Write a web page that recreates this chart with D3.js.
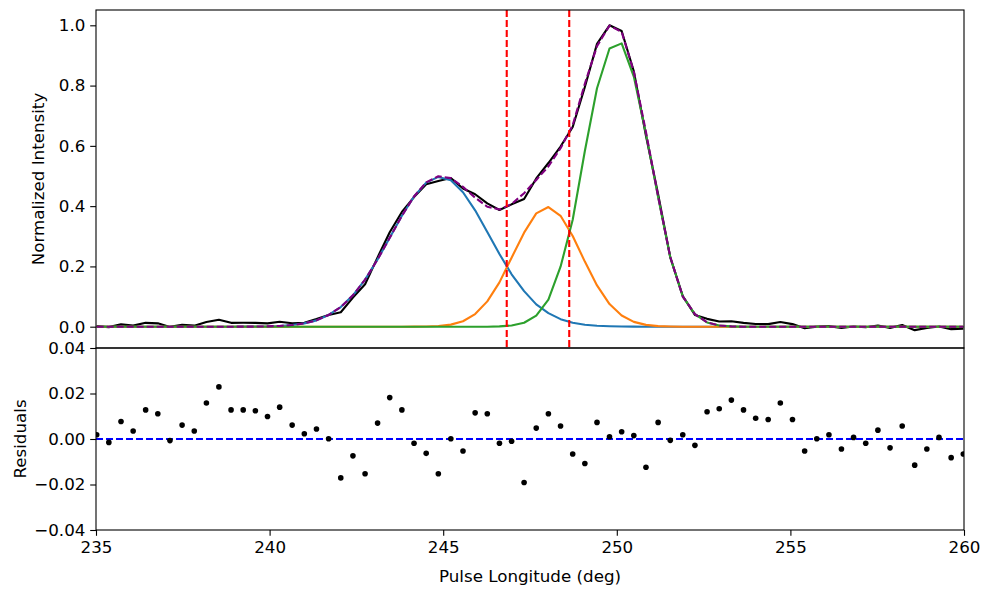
<!DOCTYPE html>
<meta charset="utf-8">
<style>
body { margin: 0; background: #fff; }
text { font-family: "DejaVu Sans", sans-serif; }
</style>
<body>
<script src="https://d3js.org/d3.v7.min.js"></script>
<div id="content"></div>
<script>
// pulse longitude of each phase bin (deg)
var longitude = [235.02, 235.37, 235.72, 236.07, 236.43, 236.78, 237.13, 237.48, 237.83, 238.18,
  238.54, 238.89, 239.24, 239.59, 239.94, 240.29, 240.65, 241.00, 241.35, 241.70,
  242.05, 242.40, 242.75, 243.11, 243.46, 243.81, 244.16, 244.51, 244.86, 245.22,
  245.57, 245.92, 246.27, 246.62, 246.97, 247.33, 247.68, 248.03, 248.38, 248.73,
  249.08, 249.43, 249.79, 250.14, 250.49, 250.84, 251.19, 251.54, 251.90, 252.25,
  252.60, 252.95, 253.30, 253.65, 254.00, 254.36, 254.71, 255.06, 255.41, 255.76,
  256.11, 256.47, 256.82, 257.17, 257.52, 257.87, 258.22, 258.58, 258.93, 259.28,
  259.63, 259.98];

// observed profile
var intensity = [0.0019, -0.0015, 0.0077, 0.0035, 0.0128, 0.0111, -0.0007, 0.0061, 0.0035, 0.0158,
  0.0229, 0.0128, 0.0130, 0.0128, 0.0109, 0.0165, 0.0115, 0.0133, 0.0254, 0.0391,
  0.0479, 0.0966, 0.1407, 0.230, 0.3132, 0.3808, 0.4301, 0.4727, 0.4837, 0.4931,
  0.4587, 0.4395, 0.4091, 0.3871, 0.406, 0.4239, 0.4918, 0.5431, 0.5977, 0.6624,
  0.7952, 0.9383, 1.000, 0.9812, 0.8475, 0.6336, 0.4393, 0.2304, 0.1019, 0.0392,
  0.026, 0.0173, 0.0181, 0.0128, 0.0091, 0.0086, 0.0158, 0.0086, -0.0053, 0.0001,
  0.0019, -0.0044, 0.0007, -0.0019, 0.0039, -0.0039, 0.0057, -0.0115, -0.0044, 0.0007,
  -0.0082, -0.0066];

// gaussian components
var comp1 = [0, 0, 0, 0, 0, 0, 0, 0, 0, 0,
  0, 0, 0.0002, 0.0004, 0.001, 0.0025, 0.0054, 0.011, 0.021, 0.039,
  0.065, 0.104, 0.156, 0.223, 0.295, 0.368, 0.432, 0.478, 0.497, 0.486,
  0.446, 0.386, 0.314, 0.241, 0.174, 0.118, 0.074, 0.045, 0.025, 0.013,
  0.0067, 0.0031, 0.0014, 0.0006, 0.0002, 0, 0, 0, 0, 0,
  0, 0, 0, 0, 0, 0, 0, 0, 0, 0,
  0, 0, 0, 0, 0, 0, 0, 0, 0, 0,
  0, 0];
var comp2 = [0, 0, 0, 0, 0, 0, 0, 0, 0, 0,
  0, 0, 0, 0, 0, 0, 0, 0, 0, 0,
  0, 0, 0, 0, 0, 0, 0.0002, 0.0007, 0.0023, 0.0069,
  0.018, 0.042, 0.084, 0.147, 0.229, 0.312, 0.376, 0.397, 0.368, 0.301,
  0.216, 0.137, 0.075, 0.037, 0.016, 0.006, 0.002, 0.0006, 0, 0,
  0, 0, 0, 0, 0, 0, 0, 0, 0, 0,
  0, 0, 0, 0, 0, 0, 0, 0, 0, 0,
  0, 0];
var comp3 = [0, 0, 0, 0, 0, 0, 0, 0, 0, 0,
  0, 0, 0, 0, 0, 0, 0, 0, 0, 0,
  0, 0, 0, 0, 0, 0, 0, 0, 0, 0,
  0, 0, 0, 0.001, 0.004, 0.013, 0.037, 0.090, 0.199, 0.355,
  0.583, 0.791, 0.923, 0.940, 0.830, 0.640, 0.430, 0.230, 0.100, 0.042,
  0.014, 0.004, 0.001, 0, 0, 0, 0, 0, 0, 0,
  0, 0, 0, 0, 0, 0, 0, 0, 0, 0,
  0, 0];

// total model
var fitTotal = [0, 0, 0, 0, 0, 0, 0, 0, 0, 0,
  0, 0, 0.0002, 0.0004, 0.001, 0.0025, 0.0054, 0.011, 0.021, 0.039,
  0.065, 0.104, 0.156, 0.223, 0.295, 0.368, 0.432, 0.479, 0.499, 0.493,
  0.464, 0.428, 0.398, 0.389, 0.407, 0.443, 0.487, 0.532, 0.592, 0.669,
  0.806, 0.931, 0.999, 0.978, 0.846, 0.646, 0.432, 0.231, 0.100, 0.042,
  0.014, 0.004, 0.001, 0, 0, 0, 0, 0, 0, 0,
  0, 0, 0, 0, 0, 0, 0, 0, 0, 0,
  0, 0];

var residuals = [0.0019, -0.0015, 0.0077, 0.0035, 0.0128, 0.0111, -0.0007, 0.0061, 0.0035, 0.0158,
  0.0229, 0.0128, 0.0128, 0.0124, 0.0099, 0.0140, 0.0061, 0.0023, 0.0044, 0.0001,
  -0.0171, -0.0074, -0.0153, 0.0070, 0.0182, 0.0128, -0.0019, -0.0063, -0.0153, 0.0001,
  -0.0053, 0.0115, 0.0111, -0.0019, -0.0010, -0.0191, 0.0048, 0.0111, 0.0057, -0.0066,
  -0.0108, 0.0073, 0.0010, 0.0032, 0.0015, -0.0124, 0.0073, -0.0006, 0.0019, -0.0028,
  0.0120, 0.0133, 0.0171, 0.0128, 0.0091, 0.0086, 0.0158, 0.0086, -0.0053, 0.0001,
  0.0019, -0.0044, 0.0007, -0.0019, 0.0039, -0.0039, 0.0057, -0.0115, -0.0044, 0.0007,
  -0.0082, -0.0066];

var boundaries = [246.83, 248.63];
var xTicks = [235, 240, 245, 250, 255, 260];
var yTicksTop = [0, 0.2, 0.4, 0.6, 0.8, 1.0];
var yTicksRes = [-0.04, -0.02, 0, 0.02, 0.04];

var width = 994,
    height = 590,
    plotLeft = 96,
    plotRight = 964,
    plotTop = 10,
    plotMid = 348,
    plotBottom = 530,
    fontSize = "16.7px";

var svg = d3.select("#content").append("svg")
    .attr("width", width)
    .attr("height", height);

var x = d3.scaleLinear().domain([235, 260]).range([plotLeft, plotRight]);
var yTop = d3.scaleLinear().domain([-0.0707, 1.0508]).range([plotMid, plotTop]);
var yRes = d3.scaleLinear().domain([-0.04, 0.04]).range([plotBottom, plotMid]);

var defs = svg.append("defs");
defs.append("clipPath").attr("id", "clipTop")
  .append("rect").attr("x", plotLeft).attr("y", plotTop)
  .attr("width", plotRight - plotLeft).attr("height", plotMid - plotTop);
defs.append("clipPath").attr("id", "clipRes")
  .append("rect").attr("x", plotLeft).attr("y", plotMid)
  .attr("width", plotRight - plotLeft).attr("height", plotBottom - plotMid);

var idx = d3.range(longitude.length);
var lineOf = function(arr) {
  return d3.line().x(function(i){ return x(longitude[i]); }).y(function(i){ return yTop(arr[i]); });
};

// top panel
var gTop = svg.append("g").attr("clip-path", "url(#clipTop)");

var series = [
  {vals: intensity, color: "#000000", dash: null},
  {vals: comp1, color: "#1f77b4", dash: null},
  {vals: comp2, color: "#ff7f0e", dash: null},
  {vals: comp3, color: "#2ca02c", dash: null},
  {vals: fitTotal, color: "#800080", dash: "7,3"}
];

series.forEach(function(s) {
  gTop.append("path")
    .datum(idx)
    .attr("d", lineOf(s.vals))
    .style("fill", "none")
    .style("stroke", s.color)
    .style("stroke-width", 2.1)
    .style("stroke-linejoin", "round")
    .style("stroke-dasharray", s.dash);
});

gTop.selectAll(".bound")
  .data(boundaries)
  .enter()
  .append("line")
  .attr("class", "bound")
  .attr("x1", function(d){ return x(d); })
  .attr("x2", function(d){ return x(d); })
  .attr("y1", plotTop)
  .attr("y2", plotMid)
  .style("stroke", "#ff0000")
  .style("stroke-width", 2.1)
  .style("stroke-dasharray", "7,3");

// residual panel
var gRes = svg.append("g").attr("clip-path", "url(#clipRes)");

gRes.append("line")
  .attr("x1", plotLeft).attr("x2", plotRight)
  .attr("y1", yRes(0)).attr("y2", yRes(0))
  .style("stroke", "#0000ff")
  .style("stroke-width", 2.1)
  .style("stroke-dasharray", "7,3");

gRes.selectAll(".res")
  .data(idx)
  .enter()
  .append("circle")
  .attr("class", "res")
  .attr("cx", function(i){ return x(longitude[i]); })
  .attr("cy", function(i){ return yRes(residuals[i]); })
  .attr("r", 2.8)
  .style("fill", "#000");

// axes
var styleAxis = function(g) {
  g.select(".domain").remove();
  g.selectAll(".tick line").style("stroke", "#000").style("stroke-width", 1.1);
  g.selectAll(".tick text").style("font-size", fontSize).style("fill", "#000")
    .style("font-family", "'DejaVu Sans', sans-serif");
};

svg.append("g")
  .attr("transform", "translate(" + plotLeft + ",0)")
  .call(d3.axisLeft(yTop).tickValues(yTicksTop).tickFormat(d3.format(".1f")).tickSize(5.8).tickPadding(4.8))
  .call(styleAxis);

svg.append("g")
  .attr("transform", "translate(" + plotLeft + ",0)")
  .call(d3.axisLeft(yRes).tickValues(yTicksRes).tickFormat(d3.format(".2f")).tickSize(5.8).tickPadding(4.8))
  .call(styleAxis);

svg.append("g")
  .attr("transform", "translate(0," + plotBottom + ")")
  .call(d3.axisBottom(x).tickValues(xTicks).tickFormat(d3.format("d")).tickSize(5.8).tickPadding(5.8))
  .call(styleAxis);

// frames
[[plotTop, plotMid], [plotMid, plotBottom]].forEach(function(p) {
  svg.append("rect")
    .attr("x", plotLeft).attr("y", p[0])
    .attr("width", plotRight - plotLeft).attr("height", p[1] - p[0])
    .style("fill", "none")
    .style("stroke", "#000")
    .style("stroke-width", 1.1);
});

// labels
svg.append("text")
  .attr("transform", "translate(44," + ((plotTop + plotMid) / 2) + ") rotate(-90)")
  .attr("text-anchor", "middle")
  .style("font-size", fontSize)
  .text("Normalized Intensity");

svg.append("text")
  .attr("transform", "translate(26," + ((plotMid + plotBottom) / 2) + ") rotate(-90)")
  .attr("text-anchor", "middle")
  .style("font-size", fontSize)
  .text("Residuals");

svg.append("text")
  .attr("x", (plotLeft + plotRight) / 2)
  .attr("y", 582)
  .attr("text-anchor", "middle")
  .style("font-size", fontSize)
  .text("Pulse Longitude (deg)");
</script>
